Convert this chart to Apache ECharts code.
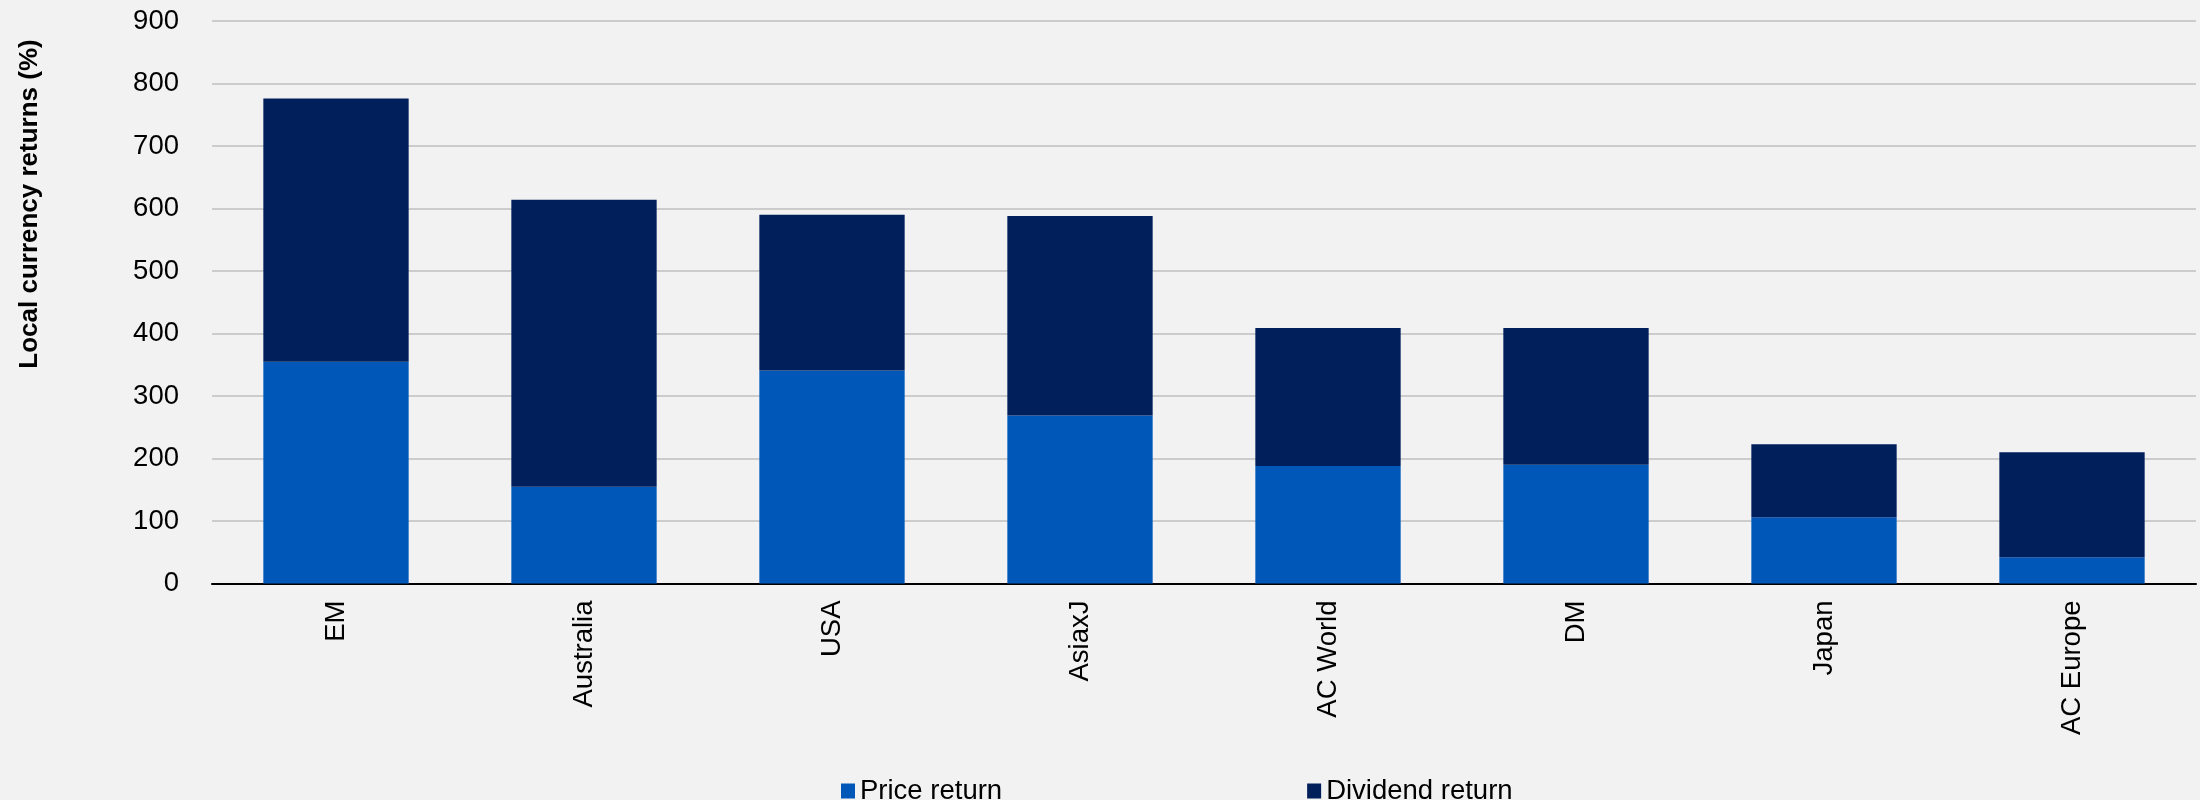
<!DOCTYPE html>
<html>
<head>
<meta charset="utf-8">
<script src="https://cdn.jsdelivr.net/npm/echarts@6/dist/echarts.min.js"></script>
<style>
html,body{margin:0;padding:0;background:#F2F2F2;}
#chart{width:2200px;height:800px;}
</style>
</head>
<body>
<div id="chart"></div>
<script>
const categories = ['EM','Australia','USA','AsiaxJ','AC World','DM','Japan','AC Europe'];
const priceReturn = [355, 155, 341, 269, 188, 190, 106, 42];
const dividendReturn = [421, 459, 249, 319, 221, 219, 117, 168];
const seriesNames = ['Price return','Dividend return'];
const yAxisTitle = 'Local currency returns (%)';

const chart = echarts.init(document.getElementById('chart'));
const font = '"Liberation Sans", Arial, sans-serif';
chart.setOption({
  backgroundColor: '#F2F2F2',
  animation: false,
  textStyle: { fontFamily: font },
  grid: { left: 212, right: 4, top: 21, bottom: 216.5, containLabel: false },
  legend: {
    left: 836, top: 772,
    itemWidth: 14, itemHeight: 15, itemGap: 305,
    icon: 'rect',
    textStyle: { fontFamily: font, fontSize: 27.5, color: '#000' },
    data: seriesNames
  },
  graphic: [{
    type: 'text',
    x: 30, y: 204,
    rotation: Math.PI / 2,
    style: {
      text: yAxisTitle,
      fontFamily: font, fontSize: 26, fontWeight: 'bold', fill: '#000',
      align: 'center', verticalAlign: 'middle'
    }
  }],
  xAxis: {
    type: 'category',
    data: categories,
    axisLine: { lineStyle: { color: '#000', width: 2 } },
    axisTick: { show: false },
    axisLabel: { rotate: 90, margin: 17, fontFamily: font, fontSize: 27.5, color: '#000' }
  },
  yAxis: {
    type: 'value',
    min: 0, max: 900, interval: 100,
    axisLine: { show: false },
    axisTick: { show: false },
    axisLabel: { margin: 33, align: 'right', fontFamily: font, fontSize: 27.5, color: '#000', alignMaxLabel: 'right', alignMinLabel: 'right' },
    splitLine: { lineStyle: { color: '#BFBFBF', width: 1.5 } }
  },
  series: [
    { name: seriesNames[0], type: 'bar', stack: 'total', data: priceReturn, barWidth: '58.6%', itemStyle: { color: '#0057B8' } },
    { name: seriesNames[1], type: 'bar', stack: 'total', data: dividendReturn, barWidth: '58.6%', itemStyle: { color: '#001F5B' } }
  ]
});
</script>
</body>
</html>
